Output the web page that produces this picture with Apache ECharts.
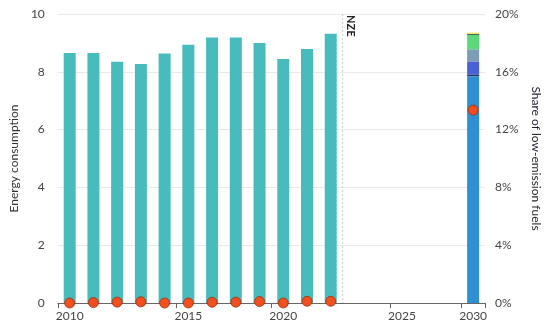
<!DOCTYPE html>
<html>
<head>
<meta charset="utf-8">
<script src="https://cdn.jsdelivr.net/npm/echarts@6/dist/echarts.min.js"></script>
<style>html,body{margin:0;padding:0;background:#fff}#c{width:550px;height:331px}</style>
</head>
<body>
<div id="c"></div>
<script>
// Category slots along the x axis (historical years, gap, 2030 NZE)
var slots = ['2010','2011','2012','2013','2014','2015','2016','2017','2018','2019','2020','2021','g1','g2','g3','g4','g5','2030'];
// Tick labels shown under the axis (as placed in the reference)
var tickLabels = ['2010','','','','','2015','','','','2020','','','','','2025','','','2030'];
// Historical energy consumption
var energyHist = [8.65, 8.65, 8.35, 8.27, 8.63, 8.94, 9.19, 9.19, 9.0, 8.44, 8.79, 9.32];
// 2030 NZE breakdown (stacked, bottom to top)
var nzeParts = [
  {name:'Fuel A', value:7.85, color:'#2f8fd0'},
  {name:'Fuel B', value:0.06, color:'#1c3566'},
  {name:'Fuel C', value:0.45, color:'#4a62d6'},
  {name:'Fuel D', value:0.42, color:'#7c9db4'},
  {name:'Fuel E', value:0.50, color:'#5cd77c'},
  {name:'Fuel F', value:0.03, color:'#2e3e3a'},
  {name:'Fuel G', value:0.05, color:'#f2e36a'}
];
// Share of low-emission fuels (%)
var shareHist = [0.0, 0.03, 0.06, 0.08, 0.0, 0.0, 0.05, 0.06, 0.1, 0.0, 0.12, 0.12];
var share2030 = 13.35;

var N = slots.length;
function histArr(vals){ var a=[]; for(var i=0;i<N;i++){ a.push(i<vals.length?vals[i]:null);} return a; }
function nzeArr(v){ var a=[]; for(var i=0;i<N;i++){ a.push(i===N-1?v:null);} return a; }

var series = [{
  name:'Energy consumption', type:'bar', stack:'e', barWidth:12,
  itemStyle:{color:'#48bcbc'}, data: histArr(energyHist)
}];
nzeParts.forEach(function(p){
  series.push({name:p.name, type:'bar', stack:'e', barWidth:12, itemStyle:{color:p.color}, data:nzeArr(p.value)});
});
var shareData = histArr(shareHist); shareData[N-1] = share2030;
series.push({
  name:'Share of low-emission fuels', type:'scatter', yAxisIndex:1, symbolSize:10, z:5,
  itemStyle:{color:'#f24e1e', borderColor:'#9a3010', borderWidth:0.8, opacity:1},
  data: shareData
});

var font = 'Lato, "Open Sans", sans-serif';
var isTick = function(i){ return tickLabels[i] !== ''; };
var chart = echarts.init(document.getElementById('c'));
chart.setOption({
  animation:false,
  textStyle:{fontFamily:font},
  grid:{left:55, right:58, top:14, bottom:28},
  xAxis:{
    type:'category', data:slots,
    axisLine:{lineStyle:{color:'#666', width:1}},
    axisTick:{show:true, interval:function(i){return isTick(i);}, length:5, lineStyle:{color:'#666'}},
    axisLabel:{interval:function(i){return isTick(i);}, formatter:function(v,i){return tickLabels[i];}, color:'#444', fontSize:12, margin:7, fontFamily:font}
  },
  yAxis:[{
    type:'value', min:0, max:10, interval:2,
    name:'Energy consumption', nameLocation:'middle', nameRotate:90, nameGap:37,
    nameTextStyle:{color:'#333', fontSize:12, fontFamily:font},
    axisLine:{show:false}, axisTick:{show:false},
    axisLabel:{color:'#444', fontSize:12, margin:13, fontFamily:font},
    splitLine:{lineStyle:{color:'#e9e9e9'}}
  },{
    type:'value', min:0, max:20, interval:4, position:'right',
    name:'Share of low-emission fuels', nameLocation:'middle', nameRotate:-90, nameGap:45,
    nameTextStyle:{color:'#1e1e2a', fontSize:12, fontFamily:font},
    axisLine:{show:false}, axisTick:{show:false},
    axisLabel:{color:'#444', fontSize:12, margin:10, formatter:'{value}%', fontFamily:font},
    splitLine:{show:false}
  }],
  series:series
});

var xa = chart.convertToPixel({xAxisIndex:0}, 11);
var xb = chart.convertToPixel({xAxisIndex:0}, 12);
var xm = (xa+xb)/2;
var yTop = chart.convertToPixel({yAxisIndex:0}, 10);
var yBot = chart.convertToPixel({yAxisIndex:0}, 0);
chart.setOption({
  graphic:[{
    type:'line', shape:{x1:xm, y1:yTop, x2:xm, y2:yBot}, z:1,
    style:{stroke:'#cfcfcf', lineWidth:1, lineDash:[2,2]}, silent:true
  },{
    type:'text', x:xm+8, y:yTop+1, rotation:-Math.PI/2,
    style:{text:'NZE', fill:'#222', font:'bold 11px ' + font, textAlign:'left', textVerticalAlign:'middle'}
  }]
});
</script>
</body>
</html>
